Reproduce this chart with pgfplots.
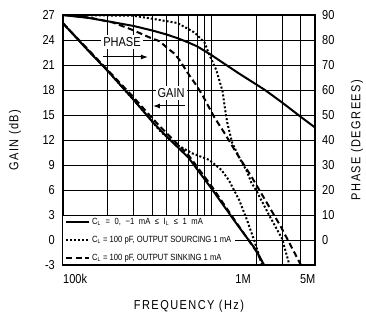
\documentclass[border=0pt]{standalone}
\usepackage{fontspec}
\setmainfont{Liberation Sans}[FakeStretch=0.85]
\newfontfamily\lblfont{Liberation Sans}[FakeStretch=0.85,LetterSpace=11]
\usepackage{pgfplots}
\pgfplotsset{compat=1.18}
\usetikzlibrary{arrows.meta}
\newcommand\tickfont{\fontsize{13}{14}\selectfont}
\newcommand\legfont{\fontsize{9}{10}\selectfont}
\newcommand\labfont{\lblfont\fontsize{13}{14}\selectfont}
\tikzset{
  solc/.style={black, line width=2bp, solid},
  dotc/.style={black, line width=2bp, dash pattern=on 2bp off 2bp},
  dshc/.style={black, line width=2bp, dash pattern=on 6bp off 3.5bp},
}
\begin{document}
\begin{tikzpicture}
% frame, grid, labels, legend
\begin{axis}[name=main,
  scale only axis, width=252bp, height=250bp, xmode=log,
  xmin=1e5, xmax=5e6, clip=true,
  /pgf/number format/assume math mode=true,
  tick label style={font=\tickfont},
  axis line style={line width=1.2bp},
  major tick length=0pt, minor tick length=0pt,
  ymin=-3, ymax=27, ytick={-3,0,...,27},
  xtick={1e5,1.449e6,3.95e6}, xticklabels={100k,1M,5M},
  minor xtick={2e5,3e5,4e5,5e5,6e5,7e5,8e5,9e5,1e6,2e6,3e6,4e6},
  xminorgrids=true, ymajorgrids=true, xmajorgrids=false,
  grid style={black, line width=0.8bp},
  minor grid style={black, line width=0.8bp},
  x tick label style={anchor=north west, inner sep=0pt, yshift=-9bp},
  y tick label style={anchor=east, inner sep=0pt, xshift=-8bp},
  xlabel={FREQUENCY (Hz)},
  xlabel style={font=\labfont, at={(axis description cs:0.5,-0.164)}, anchor=center},
  ylabel={GAIN (dB)},
  ylabel style={font=\labfont, at={(axis description cs:-0.19,0.5)}, anchor=center},
  legend image code/.code={\draw[#1] (0bp,0bp) -- (23bp,0bp);},
  legend cell align=left,
  legend style={at={(axis description cs:0,0.003)}, anchor=south west,
    fill=white, draw=none, font=\legfont, row sep=6bp,
    inner xsep=2bp, inner ysep=0.5bp},
]
\addlegendimage{solc}
\addlegendentry{\spaceskip=4.6bp C\textsubscript{L} = 0, −1 mA ≤ I\textsubscript{L} ≤ 1 mA}
\addlegendimage{dotc}
\addlegendentry{C\textsubscript{L} = 100 pF, OUTPUT SOURCING 1 mA}
\addlegendimage{dshc}
\addlegendentry{C\textsubscript{L} = 100 pF, OUTPUT SINKING 1 mA}
\node[fill=white, inner sep=2bp, font=\tickfont] at (rel axis cs:0.234,0.892) {PHASE};
\draw[line width=1bp, -{Latex[length=7bp,width=5bp]}] (rel axis cs:0.159,0.832) -- (rel axis cs:0.337,0.832);
\node[fill=white, inner sep=2bp, font=\tickfont] at (rel axis cs:0.429,0.688) {GAIN};
\draw[line width=1bp, -{Latex[length=7bp,width=5bp]}] (rel axis cs:0.484,0.636) -- (rel axis cs:0.357,0.636);
\end{axis}
% gain curves (dB)
\begin{axis}[
  scale only axis, width=252bp, height=250bp, xmode=log,
  xmin=1e5, xmax=5e6, ymin=-3, ymax=27, clip=true,
  axis lines=none, xtick=\empty, ytick=\empty,
]
\addplot[solc] coordinates {
(1e5,26.0) (1.5e5,22.6) (2e5,20.3) (3e5,16.8) (4e5,14.2) (5e5,12.4)
(7e5,9.9) (1e6,6.2) (1.5e6,1.8) (2e6,-1.2) (2.3e6,-3.2)};
\addplot[dotc] coordinates {
(1e5,26.0) (2e5,20.3) (3e5,16.8) (4e5,14.2) (4.6e5,12.9) (5.9e5,11.4)
(7.45e5,10.4) (9.7e5,9.6) (1.17e6,8.4) (1.31e6,7.2) (1.54e6,4.8)
(1.74e6,2.4) (1.94e6,0) (2.22e6,-3.2)};
\addplot[dshc] coordinates {
(1e5,26.0) (2e5,20.4) (3e5,17.1) (4e5,14.6) (5e5,12.8) (7e5,10.2)
(1e6,6.5) (1.5e6,1.9) (2e6,-1.3) (2.27e6,-3.2)};
\end{axis}
% phase curves (degrees)
\begin{axis}[
  scale only axis, width=252bp, height=250bp, xmode=log,
  xmin=1e5, xmax=5e6, clip=true,
  /pgf/number format/assume math mode=true,
  tick label style={font=\tickfont},
  axis line style={line width=1.2bp},
  major tick length=0pt, minor tick length=0pt,
  ymin=-10, ymax=90, ytick={0,10,...,90},
  xtick=\empty, axis x line=none, axis y line*=right,
  y tick label style={anchor=west, inner sep=0pt, xshift=7bp},
  ylabel={PHASE (DEGREES)},
  ylabel style={font=\labfont, at={(axis description cs:1.167,0.5)}, anchor=center, rotate=0},
]
\addplot[solc] coordinates {
(1e5,90) (1.5e5,88.8) (2e5,87.5) (3e5,85.6) (4e5,83.8) (5e5,82.2)
(6e5,80.6) (7e5,79) (8e5,77.5) (1e6,74) (1.5e6,67) (2.3e6,60)
(3e6,55) (4e6,49.3) (5e6,45)};
\addplot[dotc] coordinates {
(1e5,90) (3e5,89.7) (4e5,88.5) (5.9e5,86.8) (7.7e5,83) (9e5,79)
(9.7e5,74) (1.08e6,68) (1.19e6,59.5) (1.24e6,52) (1.28e6,47) (1.38e6,39)
(1.54e6,33) (1.72e6,28) (1.86e6,23) (2.0e6,20) (2.5e6,9) (3.0e6,0.5) (3.4e6,-11)};
\addplot[dshc] coordinates {
(1e5,90) (1.5e5,89) (2.17e5,87) (2.95e5,84) (3.84e5,81) (4.48e5,79.5)
(5e5,77) (5.65e5,74.5) (6.1e5,72) (6.9e5,67) (7.9e5,62) (8.7e5,58)
(1.05e6,49) (1.22e6,43) (1.47e6,35) (1.88e6,25) (2.95e6,5.2) (4.1e6,-11)};
\end{axis}
\pgfresetboundingbox
\path ([shift={(-63bp,-59bp)}]main.south west) rectangle ([shift={(51bp,15bp)}]main.north east);
\end{tikzpicture}
\end{document}
